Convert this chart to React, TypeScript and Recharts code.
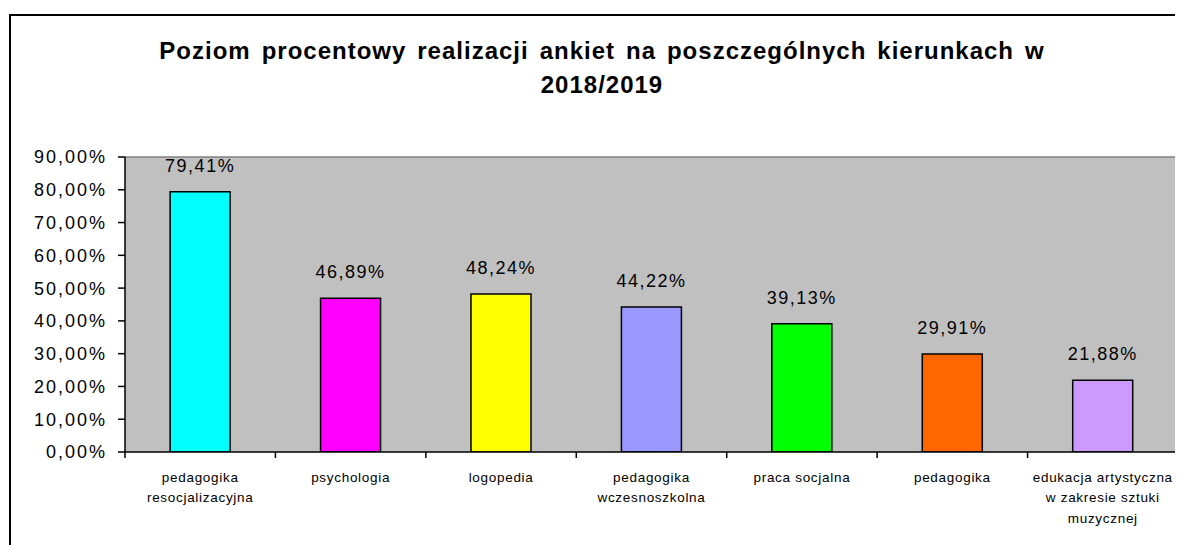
import React from 'react';
import { BarChart, Bar, XAxis, YAxis, CartesianGrid, Cell, LabelList, ReferenceLine } from 'recharts';

const categories: string[][] = [
  ['pedagogika', 'resocjalizacyjna'],
  ['psychologia'],
  ['logopedia'],
  ['pedagogika', 'wczesnoszkolna'],
  ['praca socjalna'],
  ['pedagogika'],
  ['edukacja artystyczna', 'w zakresie sztuki', 'muzycznej'],
];
const values: number[] = [79.41, 46.89, 48.24, 44.22, 39.13, 29.91, 21.88];
const colors: string[] = ['#00FFFF', '#FF00FF', '#FFFF00', '#9999FF', '#00FF00', '#FF6600', '#CC99FF'];
const yTicks: number[] = [0, 10, 20, 30, 40, 50, 60, 70, 80, 90];
const titleLines: string[] = ['Poziom procentowy realizacji ankiet na poszczególnych kierunkach w', '2018/2019'];

const data = categories.map((c, i) => ({ name: c.join(' '), lines: c, idx: i, value: values[i] }));

const fmt = (v: number) => v.toFixed(2).replace('.', ',') + '%';
const FONT = '"Liberation Sans", Arial, sans-serif';

const XTick = (props: any) => {
  const { x, y, payload } = props;
  const idx = payload.index;
  const item = data[idx] || data.find((d) => d.name === payload.value);
  const lines = item ? item.lines : [String(payload.value)];
  const half = typeof payload.offset === 'number' ? payload.offset : 0;
  const isLast = idx === data.length - 1;
  return (
    <g>
      {half > 0 && (
        <line x1={x - half} x2={x - half} y1={y} y2={y + 6} stroke="#000" strokeWidth={1.5} />
      )}
      {half > 0 && isLast && (
        <line x1={x + half} x2={x + half} y1={y} y2={y + 6} stroke="#000" strokeWidth={1.5} />
      )}
      {lines.map((l: string, i: number) => (
        <text
          key={i}
          x={x}
          y={y + 25 + i * 20.5}
          textAnchor="middle"
          dominantBaseline="central"
          fontFamily={FONT}
          fontSize={13.5}
          letterSpacing={0.7}
          fill="#000"
        >
          {l}
        </text>
      ))}
    </g>
  );
};

export default function App() {
  return (
    <div style={{ position: 'relative', width: 1175, height: 537, overflow: 'hidden', background: '#fff' }}>
      <div
        style={{
          position: 'absolute',
          left: 1,
          top: 6,
          width: 2000,
          height: 2000,
          borderLeft: '2px solid #000',
          borderTop: '2px solid #000',
        }}
      />
      <div
        style={{
          position: 'absolute',
          left: 0,
          top: 26,
          width: 1188,
          textAlign: 'center',
          fontFamily: FONT,
          fontWeight: 'bold',
          fontSize: 24,
          letterSpacing: 1,
          wordSpacing: 3.3,
          lineHeight: '34px',
          color: '#000',
        }}
      >
        {titleLines.map((t, i) => (
          <div key={i}>{t}</div>
        ))}
      </div>
      <div style={{ position: 'absolute', left: 0, top: 0 }}>
        <BarChart
          width={1175}
          height={537}
          data={data}
          margin={{ top: 149, right: 5, left: 0, bottom: 0 }}
          barCategoryGap="30%"
        >
          <CartesianGrid horizontal={false} vertical={false} fill="#C0C0C0" stroke="none" />
          <XAxis
            dataKey="name"
            height={93}
            interval={0}
            axisLine={{ stroke: '#000', strokeWidth: 1.5 }}
            tickLine={false}
            tickSize={0}
            tickMargin={0}
            tick={<XTick />}
          />
          <YAxis
            domain={[0, 90]}
            ticks={yTicks}
            width={117}
            tickFormatter={fmt}
            axisLine={{ stroke: '#000', strokeWidth: 1.5 }}
            tickLine={{ stroke: '#000', strokeWidth: 1.5 }}
            tickSize={7}
            tickMargin={11}
            tick={{ fontFamily: FONT, fontSize: 18, fill: '#000', letterSpacing: 2 }}
            allowDataOverflow
          />
          <YAxis
            yAxisId="r"
            orientation="right"
            width={0}
            domain={[0, 90]}
            axisLine={{ stroke: '#808080', strokeWidth: 1.5 }}
            tickLine={false}
            tick={false}
          />
          <ReferenceLine y={90} stroke="#808080" strokeWidth={1.5} />
          <Bar dataKey="value" isAnimationActive={false} stroke="#000" strokeWidth={1.5}>
            {data.map((d, i) => (
              <Cell key={i} fill={colors[i]} />
            ))}
            <LabelList
              dataKey="value"
              position="top"
              offset={20}
              formatter={(v: any) => fmt(Number(v))}
              style={{ fontFamily: FONT, fontSize: 18, fill: '#000', letterSpacing: 1.5 }}
            />
          </Bar>
        </BarChart>
      </div>
    </div>
  );
}
